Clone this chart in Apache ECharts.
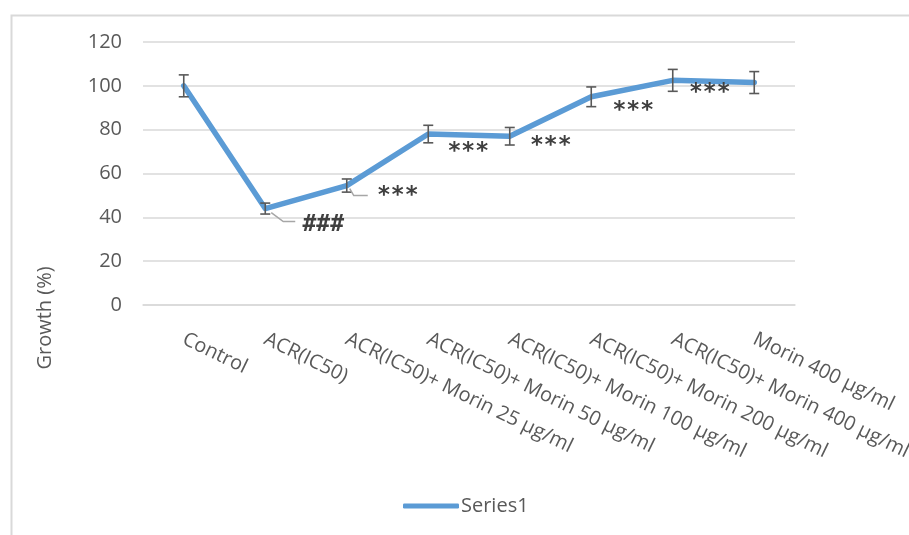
<!DOCTYPE html>
<html>
<head>
<meta charset="utf-8">
<script src="https://cdn.jsdelivr.net/npm/echarts@6/dist/echarts.min.js"></script>
<style>
  html, body { margin: 0; padding: 0; background: #ffffff; }
  #chart { width: 909px; height: 535px; }
</style>
</head>
<body>
<div id="chart"></div>
<script>
// Treatment groups along the x axis
const categories = [
  'Control',
  'ACR(IC50)',
  'ACR(IC50)+ Morin 25 µg/ml',
  'ACR(IC50)+ Morin 50 µg/ml',
  'ACR(IC50)+ Morin 100 µg/ml',
  'ACR(IC50)+ Morin 200 µg/ml',
  'ACR(IC50)+ Morin 400 µg/ml',
  'Morin 400 µg/ml'
];
// Mean growth (%) per group
const growth = [100, 44, 54.5, 78, 77, 95, 102.5, 101.5];
// Error bar half-width (%) per group
const growthError = [5, 2.5, 3, 4, 4, 4.5, 5, 5];
// Significance marks per group
const significance = ['', '###', '***', '***', '***', '***', '***', ''];
// Y axis ticks
const yTicks = [0, 20, 40, 60, 80, 100, 120];

// Label placement (pixel offsets from each point) and optional leader lines
const labelLayout = [
  null,
  { dx: 58, dy: 16, leader: [[6, 4], [18, 13], [30, 13]] },
  { dx: 51, dy: 10, leader: [[3, 3], [7, 10], [21, 10]] },
  { dx: 40, dy: 18 },
  { dx: 41, dy: 10 },
  { dx: 42, dy: 14 },
  { dx: 37, dy: 13 },
  null
];

const TEXT = '#595959';
const GRID = '#D9D9D9';
const BLUE = '#5B9BD5';

const chart = echarts.init(document.getElementById('chart'), null, { renderer: 'canvas' });

const option = {
  backgroundColor: '#ffffff',
  animation: false,
  graphic: [
    {
      type: 'rect',
      left: 9, top: 13,
      shape: { width: 920, height: 540 },
      style: { fill: 'none', stroke: GRID, lineWidth: 2 },
      silent: true,
      z: -10
    },
    {
      // vertical axis title
      type: 'text',
      x: 45, y: 318,
      rotation: Math.PI / 2,
      style: {
        text: 'Growth (%)',
        fill: TEXT,
        font: '20px "Open Sans"',
        align: 'center',
        verticalAlign: 'middle'
      },
      silent: true
    }
  ],
  grid: {
    left: 143, right: 114, top: 42, bottom: 230,
    containLabel: false,
    outerBoundsMode: 'none'
  },
  legend: {
    left: 403,
    top: 496,
    padding: 0,
    data: [{ name: 'Series1', icon: 'roundRect' }],
    itemWidth: 56,
    itemHeight: 5,
    textStyle: { color: TEXT, fontFamily: 'Open Sans', fontSize: 20, padding: [0, 0, 0, -3] }
  },
  xAxis: {
    type: 'category',
    data: categories,
    boundaryGap: true,
    axisLine: { show: true, lineStyle: { color: GRID, width: 1.5 } },
    axisTick: { show: false },
    axisLabel: {
      interval: 0,
      rotate: -26,
      margin: 33,
      color: TEXT,
      fontFamily: 'Open Sans',
      fontSize: 20
    }
  },
  yAxis: {
    type: 'value',
    min: yTicks[0],
    max: yTicks[yTicks.length - 1],
    interval: yTicks[1] - yTicks[0],
    axisLine: { show: false },
    axisTick: { show: false },
    axisLabel: { color: TEXT, fontFamily: 'Open Sans', fontSize: 20, margin: 21 },
    splitLine: { lineStyle: { color: GRID, width: 1.5 } }
  },
  series: [
    {
      name: 'Series1',
      type: 'line',
      data: growth,
      symbol: 'none',
      color: BLUE,
      lineStyle: { color: BLUE, width: 5.5, cap: 'round', join: 'round' },
      z: 3
    },
    {
      name: 'error',
      type: 'custom',
      data: growth.map((v, i) => [i, v - growthError[i], v + growthError[i]]),
      renderItem: function (params, api) {
        const lo = api.coord([api.value(0), api.value(1)]);
        const hi = api.coord([api.value(0), api.value(2)]);
        const w = 5;
        const style = { stroke: '#595959', lineWidth: 1.6, fill: 'none' };
        return {
          type: 'group',
          children: [
            { type: 'line', shape: { x1: lo[0], y1: lo[1], x2: hi[0], y2: hi[1] }, style },
            { type: 'line', shape: { x1: lo[0] - w, y1: lo[1], x2: lo[0] + w, y2: lo[1] }, style },
            { type: 'line', shape: { x1: hi[0] - w, y1: hi[1], x2: hi[0] + w, y2: hi[1] }, style }
          ]
        };
      },
      z: 4,
      silent: true
    },
    {
      name: 'significance',
      type: 'custom',
      data: growth.map((v, i) => [i, v]),
      renderItem: function (params, api) {
        const i = params.dataIndex;
        const layout = labelLayout[i];
        const text = significance[i];
        if (!layout || !text) return { type: 'group', children: [] };
        const p = api.coord([api.value(0), api.value(1)]);
        const children = [];
        if (layout.leader) {
          children.push({
            type: 'polyline',
            shape: { points: layout.leader.map(o => [p[0] + o[0], p[1] + o[1]]) },
            style: { stroke: '#A6A6A6', lineWidth: 1.5, fill: 'none' }
          });
        }
        children.push({
          type: 'text',
          x: p[0] + layout.dx,
          y: p[1] + layout.dy,
          style: {
            text: text,
            fill: '#404040',
            font: 'bold 23px "DejaVu Sans Mono"',
            align: 'center',
            verticalAlign: 'middle'
          }
        });
        return { type: 'group', children };
      },
      z: 5,
      silent: true
    }
  ]
};

chart.setOption(option);
</script>
</body>
</html>
